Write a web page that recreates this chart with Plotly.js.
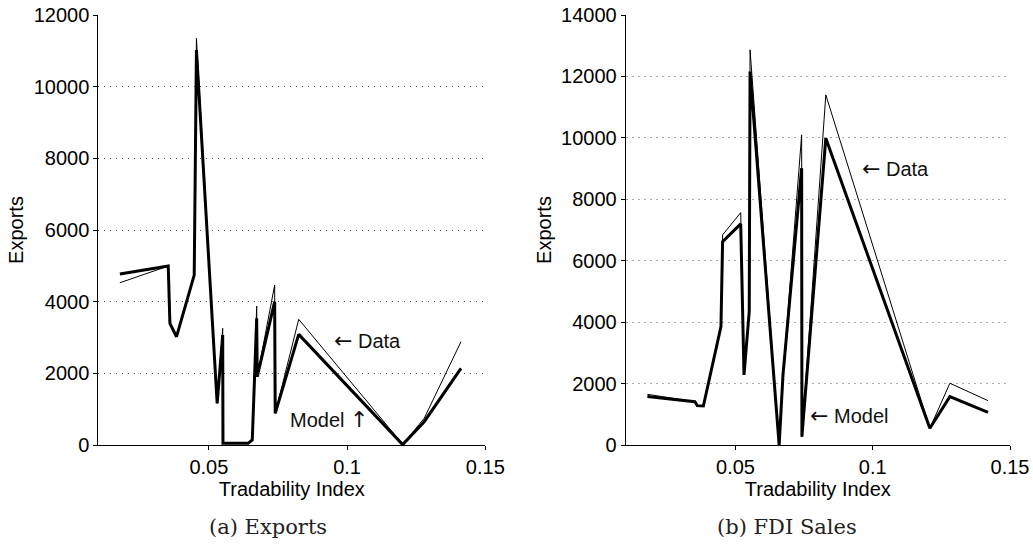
<!DOCTYPE html>
<html>
<head>
<meta charset="utf-8">
<script src="https://cdn.plot.ly/plotly-3.0.1.min.js"></script>
<style>
  html, body { margin: 0; padding: 0; background: #fff; }
  #chart { width: 1033px; height: 544px; }
</style>
</head>
<body>
<div id="chart"></div>
<script>
// Panel (a) Exports
const exportsX     = [0.0178, 0.0353, 0.0359, 0.0383, 0.0447, 0.0455, 0.0530, 0.0550, 0.0551, 0.0642, 0.0657, 0.0673, 0.0675, 0.0738, 0.0740, 0.0825, 0.1201, 0.1279, 0.1412];
const exportsData  = [4528, 4994, 3395, 3022, 4743, 11347, 1163, 3255, 47, 47, 140, 3878, 1906, 4464, 884, 3507, 20, 745, 2882];
const exportsModel = [4771, 4994, 3395, 3022, 4743, 11020, 1163, 3069, 47, 47, 140, 3535, 1906, 3999, 884, 3088, 10, 650, 2140];

// Panel (b) FDI Sales
const fdiX     = [0.0179, 0.0352, 0.0361, 0.0383, 0.0447, 0.0453, 0.0519, 0.0531, 0.0550, 0.0553, 0.0659, 0.0673, 0.0741, 0.0742, 0.0829, 0.1208, 0.1281, 0.1420];
const fdiData  = [1650, 1411, 1281, 1270, 3853, 6840, 7566, 2280, 4342, 12865, 0, 2280, 10097, 270, 11400, 543, 2010, 1443];
const fdiModel = [1580, 1411, 1281, 1270, 3853, 6622, 7198, 2280, 4342, 12160, 0, 2280, 9012, 270, 9989, 543, 1573, 1065];

// Tick labels
const xTickVals = [0.05, 0.1, 0.15];
const xTickText = ["0.05", "0.1", "0.15"];
const yTickValsA = [0, 2000, 4000, 6000, 8000, 10000, 12000];
const yTickValsB = [0, 2000, 4000, 6000, 8000, 10000, 12000, 14000];

const sans = "'Liberation Sans', Arial, Helvetica, sans-serif";
const serif = "'DejaVu Serif', serif";
const FS = 20;

function arrow(ch) {
  return '<span style="font-family:\'DejaVu Sans\';font-size:22px">' + ch + '</span>';
}

const traces = [
  {x: exportsX, y: exportsData, mode: 'lines', line: {color: '#000', width: 1}, xaxis: 'x', yaxis: 'y', name: 'Data'},
  {x: exportsX, y: exportsModel, mode: 'lines', line: {color: '#000', width: 3}, xaxis: 'x', yaxis: 'y', name: 'Model'},
  {x: fdiX, y: fdiData, mode: 'lines', line: {color: '#000', width: 1}, xaxis: 'x2', yaxis: 'y2', name: 'Data'},
  {x: fdiX, y: fdiModel, mode: 'lines', line: {color: '#000', width: 3}, xaxis: 'x2', yaxis: 'y2', name: 'Model'}
];

function xAxis(domain, anchor) {
  return {
    domain: domain, anchor: anchor, range: [0.01, 0.15],
    tickvals: xTickVals, ticktext: xTickText,
    ticks: 'outside', ticklen: 4, tickcolor: '#000', tickwidth: 1,
    showline: true, linecolor: '#000', linewidth: 1,
    showgrid: false, zeroline: false,
    tickfont: {family: sans, size: FS, color: '#000'},
    title: {text: 'Tradability Index', font: {family: sans, size: FS, color: '#000'}, standoff: 2}
  };
}
function yAxis(domain, anchor, range, vals, dash, gcol) {
  return {
    domain: domain, anchor: anchor, range: range,
    tickvals: vals, tickformat: 'd',
    ticks: 'outside', ticklen: 4, tickcolor: '#000', tickwidth: 1,
    showline: true, linecolor: '#000', linewidth: 1,
    showgrid: true, gridcolor: gcol, griddash: dash, gridwidth: 1,
    zeroline: false,
    tickfont: {family: sans, size: FS, color: '#000'},
    title: {text: 'Exports', font: {family: sans, size: FS, color: '#000'}, standoff: 4}
  };
}

const yDom = [99/544, 529/544];
const layout = {
  width: 1033, height: 544,
  margin: {l: 0, r: 0, t: 0, b: 0},
  paper_bgcolor: '#fff', plot_bgcolor: '#fff',
  showlegend: false,
  xaxis: xAxis([98.3/1033, 485.3/1033], 'y'),
  yaxis: yAxis(yDom, 'x', [0, 12000], yTickValsA, '1px,5px', '#555'),
  xaxis2: xAxis([625.7/1033, 1010/1033], 'y2'),
  yaxis2: yAxis(yDom, 'x2', [0, 14000], yTickValsB, '2px,4px', '#aaa'),
  annotations: [
    {xref: 'x', yref: 'y', x: 0.0947, y: 2930, xanchor: 'left', yanchor: 'middle', text: arrow('←') + ' Data', showarrow: false, font: {family: sans, size: FS, color: '#111'}},
    {xref: 'x', yref: 'y', x: 0.0785, y: 725, xanchor: 'left', yanchor: 'middle', text: 'Model ' + arrow('↑'), showarrow: false, font: {family: sans, size: FS, color: '#111'}},
    {xref: 'x2', yref: 'y2', x: 0.0953, y: 8989, xanchor: 'left', yanchor: 'middle', text: arrow('←') + ' Data', showarrow: false, font: {family: sans, size: FS, color: '#111'}},
    {xref: 'x2', yref: 'y2', x: 0.0763, y: 945, xanchor: 'left', yanchor: 'middle', text: arrow('←') + ' Model', showarrow: false, font: {family: sans, size: FS, color: '#111'}},
    {xref: 'paper', yref: 'paper', x: 268/1033, y: 17/544, xanchor: 'center', yanchor: 'middle', text: '(a) Exports', showarrow: false, font: {family: serif, size: 21, color: '#222'}},
    {xref: 'paper', yref: 'paper', x: 787/1033, y: 17/544, xanchor: 'center', yanchor: 'middle', text: '(b) FDI Sales', showarrow: false, font: {family: serif, size: 21, color: '#222'}}
  ]
};

Plotly.newPlot('chart', traces, layout, {displayModeBar: false, staticPlot: true});
</script>
</body>
</html>
